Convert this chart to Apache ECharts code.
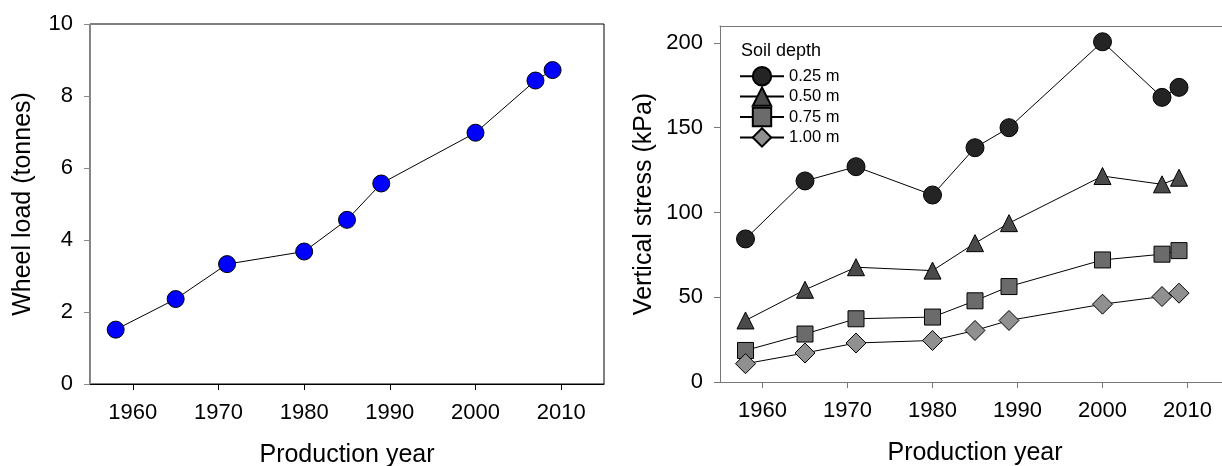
<!DOCTYPE html>
<html>
<head>
<meta charset="utf-8">
<script src="https://cdn.jsdelivr.net/npm/echarts@6/dist/echarts.min.js"></script>
<style>
    html, body { margin: 0; padding: 0; background: #fff; }
    #chart { width: 1222px; height: 466px; }
</style>
</head>
<body>
<div id="chart"></div>
<script>
// production years of the tractors
const years = [1958, 1965, 1971, 1980, 1985, 1989, 2000, 2007, 2009];

// left panel: wheel load (tonnes)
const wheelLoad = [1.51, 2.36, 3.33, 3.68, 4.56, 5.57, 6.98, 8.43, 8.72];

// right panel: vertical stress (kPa) at soil depth
const depthNames = ['0.25 m', '0.50 m', '0.75 m', '1.00 m'];
const stress025 = [84.4, 118.6, 127.0, 110.3, 138.2, 150.0, 200.7, 167.9, 173.8];
const stress050 = [36.3, 54.4, 67.7, 65.7, 81.9, 93.7, 121.5, 116.6, 120.5];
const stress075 = [18.6, 28.3, 37.3, 38.3, 47.9, 56.3, 72.0, 75.4, 77.5];
const stress100 = [10.8, 17.1, 23.0, 24.5, 30.4, 36.3, 45.9, 50.4, 52.4];

// tick labels
const yearTicks = [1960, 1970, 1980, 1990, 2000, 2010];
const loadTicks = [0, 2, 4, 6, 8, 10];
const stressTicks = [0, 50, 100, 150, 200];

const legendTitle = 'Soil depth';

const FONT = "'Liberation Sans', Arial, sans-serif";

function pairs(ys) {
    return years.map((x, i) => [x, ys[i]]);
}

function xAxis(gridIndex, color) {
    return {
        type: 'value', gridIndex: gridIndex,
        min: 1955, max: 2015, interval: 5,
        name: 'Production year', nameLocation: 'middle', nameGap: 59,
        nameTextStyle: { fontFamily: FONT, fontSize: 25, color: '#000' },
        axisLine: { show: true, lineStyle: { color: color, width: 1 } },
        axisTick: { show: true, inside: false, length: 6, customValues: yearTicks, lineStyle: { color: color } },
        axisLabel: {
            customValues: yearTicks, margin: 18, fontFamily: FONT, fontSize: 22, color: '#000',
            formatter: v => String(v)
        },
        splitLine: { show: false }
    };
}

function yAxis(gridIndex, name, ticks, max, gap, color) {
    return {
        type: 'value', gridIndex: gridIndex,
        min: 0, max: max,
        name: name, nameLocation: 'middle', nameGap: gap,
        nameTextStyle: { fontFamily: FONT, fontSize: 25, color: '#000' },
        axisLine: { show: true, lineStyle: { color: color, width: 1 } },
        axisTick: { show: true, inside: false, length: 6, customValues: ticks, lineStyle: { color: color } },
        axisLabel: { customValues: ticks, margin: 17, fontFamily: FONT, fontSize: 22, color: '#000' },
        splitLine: { show: false }
    };
}

function stressSeries(name, values, symbol, size, fill) {
    return {
        name: name, type: 'line', xAxisIndex: 1, yAxisIndex: 1,
        data: pairs(values),
        symbol: symbol, symbolSize: size,
        showAllSymbol: true,
        lineStyle: { color: '#000', width: 1 },
        itemStyle: { color: fill, borderColor: '#000', borderWidth: 1 },
        emphasis: { disabled: true },
        z: 3
    };
}

const chart = echarts.init(document.getElementById('chart'), null, { renderer: 'canvas' });

chart.setOption({
    animation: false,
    backgroundColor: '#fff',
    title: {
        text: legendTitle, left: 736, top: 37,
        textStyle: { fontFamily: FONT, fontSize: 18, fontWeight: 'normal', color: '#000' }
    },
    legend: {
        data: depthNames, orient: 'vertical', left: 734, top: 61,
        itemWidth: 44, itemHeight: 23, itemGap: 0,
        textStyle: { fontFamily: FONT, fontSize: 16.5, color: '#000' },
        selectedMode: false
    },
    grid: [
        {
            left: 90, top: 24, width: 514, height: 360, show: true, borderColor: '#000', borderWidth: 1,
            outerBoundsMode: 'none', containLabel: false
        },
        // right panel runs past the page edge, so only its top edge is drawn (axis below)
        {
            left: 720, top: 26, width: 510, height: 356, show: false,
            outerBoundsMode: 'none', containLabel: false
        }
    ],
    xAxis: [
        xAxis(0, '#000'),
        xAxis(1, '#777'),
        {
            type: 'value', gridIndex: 1, position: 'top', min: 1955, max: 2015,
            axisLine: { show: true, lineStyle: { color: '#777', width: 1 } },
            axisTick: { show: false }, axisLabel: { show: false }, splitLine: { show: false }
        }
    ],
    yAxis: [
        yAxis(0, 'Wheel load (tonnes)', loadTicks, 10, 54, '#888'),
        yAxis(1, 'Vertical stress (kPa)', stressTicks, 210, 63, '#777')
    ],
    series: [
        {
            name: 'Wheel load', type: 'line', xAxisIndex: 0, yAxisIndex: 0,
            data: pairs(wheelLoad),
            symbol: 'circle', symbolSize: 17,
            lineStyle: { color: '#000', width: 1 },
            itemStyle: { color: '#0000ff', borderColor: '#000', borderWidth: 1 },
            emphasis: { disabled: true }
        },
        stressSeries(depthNames[0], stress025, 'circle', 18, '#242424'),
        stressSeries(depthNames[1], stress050, 'triangle', 17, '#4a4a4a'),
        stressSeries(depthNames[2], stress075, 'rect', 16, '#6b6b6b'),
        stressSeries(depthNames[3], stress100, 'diamond', 20, '#909090')
    ]
});
</script>
</body>
</html>
